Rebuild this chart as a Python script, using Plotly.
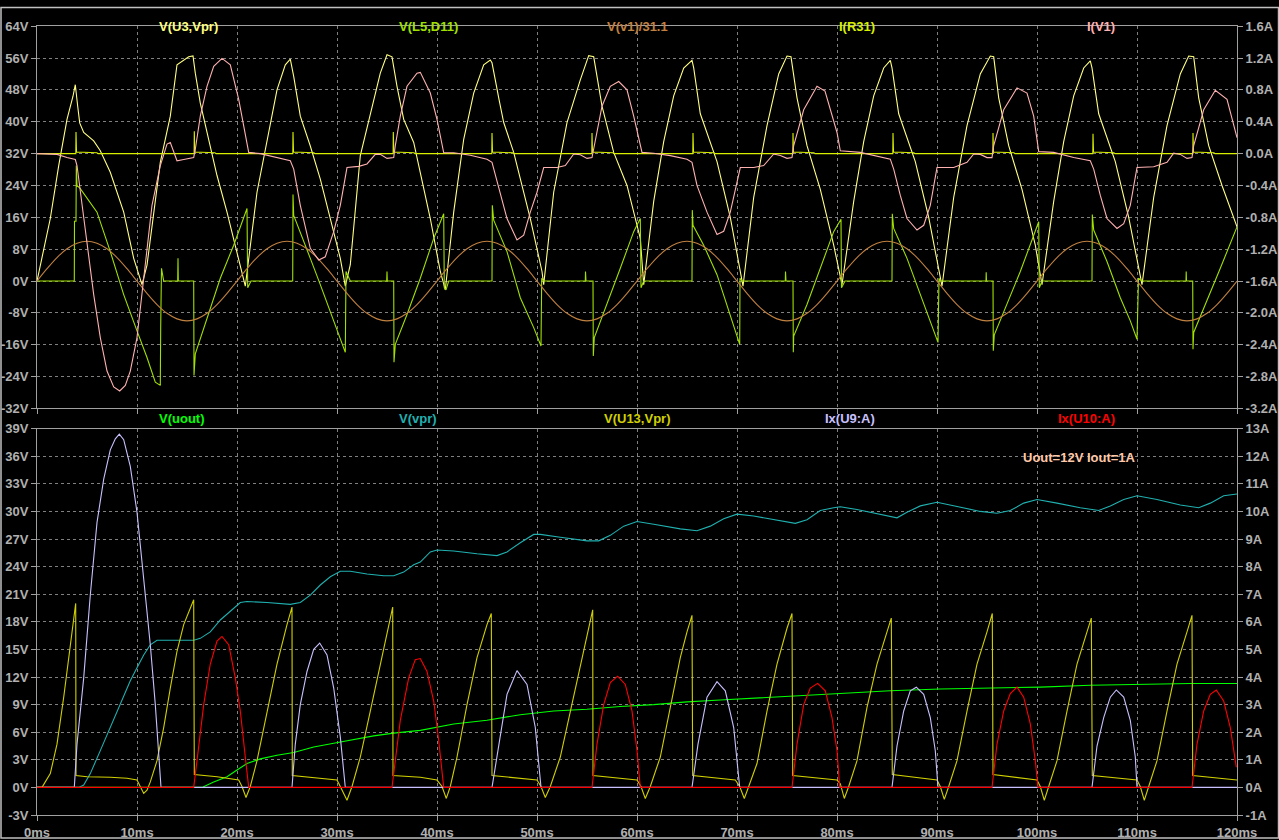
import plotly.graph_objects as go

# ---- top panel (time in ms) ----
u3_pts = [(0, 0), (0.5, 5.7), (1.33, 15.7), (2.17, 29), (3, 40.6), (3.6, 46.4), (3.83, 49.3), (4.07, 43.9),
          (4.27, 39.7), (4.67, 37.3), (5.67, 35.2), (6.33, 32.7), (7.33, 27.3), (8.67, 17.3), (9.67, 5.7),
          (10.5, -0.9), (11, 4), (12.33, 29.8), (13.33, 41.4), (14, 54.3), (15.17, 56.3), (15.6, 56.5),
          (15.83, 52.2), (16.33, 44.7), (17, 37.3), (18, 26.5), (19, 17.3), (20, 7.4), (20.83, -1.3),
          (22, 22.3), (23, 35.6), (24, 48), (24.83, 54.3), (25.33, 55.7), (25.67, 51.4), (26.33, 41.4),
          (27.33, 33.9), (28.33, 25.6), (29.33, 15.7), (30.33, 5.7), (30.83, -1.3), (31.33, 4.1),
          (32.33, 31.5), (33.33, 42.2), (34.33, 52.2), (35, 56.8), (35.5, 56.3), (36, 48.9), (36.67, 40.6),
          (37.67, 34.8), (38.33, 27), (39.33, 15.7), (40.33, 2.4), (40.83, -2.2), (41.67, 17.3),
          (42.67, 35.6), (43.67, 47.2), (44.67, 54.3), (45.33, 55.5), (45.5, 54.8), (46.2, 45.6),
          (46.67, 39.8), (47.67, 32.3), (49.33, 15.7), (50.5, 2.4), (50.67, -0.9), (51.67, 22.3),
          (53, 39.8), (54.33, 50.5), (55.17, 56.6), (55.67, 56.3), (56.5, 43.9), (57.67, 32.3), (59, 24),
          (60.33, 10.7), (60.67, -0.9), (61.67, 20), (62.67, 35), (63.67, 46.5), (64.67, 53.5),
          (65.5, 55.4), (65.67, 53.5), (66.33, 42), (67, 37), (68, 30), (69.33, 16), (70.33, 3),
          (70.6, -1.3), (71.67, 21), (73, 39), (74.17, 52), (75, 56.5), (75.4, 56.3), (76, 46),
          (77, 34), (78.33, 23), (79.67, 9), (80.5, -0.9), (81.67, 20), (82.67, 35), (83.67, 46.5),
          (84.67, 53.5), (85.33, 55.4), (85.5, 53.5), (86.17, 42), (86.83, 37), (87.83, 30),
          (89.17, 16), (90.17, 3), (90.5, -1.3), (91.67, 21), (93, 39), (94.33, 52), (95.33, 56.5),
          (95.67, 56.3), (96.17, 46), (97.17, 34), (98.5, 23), (99.83, 9), (100.5, -0.9), (101.67, 20),
          (102.67, 35), (103.67, 46.5), (104.67, 53.5), (105.33, 55.3), (105.5, 53.5), (106.17, 42),
          (106.83, 37), (107.83, 30), (109.17, 16), (110.17, 3), (110.5, -0.9), (111.67, 21),
          (113, 39), (114.33, 52), (115.17, 56.5), (115.67, 56.3), (116.17, 46), (117.17, 34),
          (118.5, 24), (120, 13.6)]

l5_pts = [(0, 0), (3.73, 0), (3.75, 15), (3.9, 15), (3.93, 29), (4.0, 24), (4.33, 23.2), (5, 20.7),
          (6, 17.3), (7.33, 7.4), (8.67, -3.4), (10, -12.5), (11, -19.2), (11.83, -25.4), (12.33, -26.2),
          (12.37, -11.7), (12.45, 3.2), (12.67, 0), (14.07, 0), (14.1, 5.7), (14.13, 0), (15.67, 0),
          (15.7, -23.7), (15.83, -18.3), (17, -9.2), (18.33, 0.7), (19.67, 9), (21, 18.2), (21.07, -1.7),
          (21.2, -1.0), (21.4, 0), (25.57, 0), (25.6, 21.7), (25.67, 16.5), (26.33, 12.4), (27.33, 5.7),
          (28.33, -0.9), (29.67, -10), (30.83, -17.9), (30.9, 2.4), (31.07, 1.6), (31.33, 0), (34.97, 0),
          (35, 2.4), (35.03, 0), (35.67, 0), (35.7, -20.4), (35.83, -15.9), (37, -8.4), (38.33, 0.7),
          (39.67, 10.7), (40.67, 16.9), (40.73, -1.7), (40.9, -2.2), (41.17, 0), (45.5, 0), (45.53, 19),
          (45.67, 15.3), (47, 7.4), (48.33, -4.2), (49.67, -11.7), (50.4, -16.3), (50.47, 0.7),
          (50.67, 0), (54.83, 0), (54.85, 2.4), (54.9, 0), (55.6, 0), (55.63, -18.8), (55.73, -14.2),
          (57, -5.9), (58.33, 3.2), (59.67, 12.4), (60.33, 15.7), (60.4, -1.7), (60.67, 0), (65.5, 0),
          (65.53, 17.8), (65.6, 14), (66.67, 9), (68, 1.6), (69, -5.9), (70.27, -15.9), (70.3, 0.7),
          (70.5, 0), (74.83, 0), (74.85, 2.4), (74.9, 0), (75.6, 0), (75.63, -17.9), (75.67, -13.8),
          (77, -5.9), (78.33, 3.2), (79.67, 12.4), (80.4, 15.5), (80.45, -1.7), (80.8, 0), (85.5, 0),
          (85.53, 16.9), (85.67, 13.2), (87, 5.7), (88.33, -3.4), (89.33, -10), (90.1, -15.4),
          (90.2, 0.7), (90.33, 0), (94.9, 0), (94.92, 2.2), (94.95, 0), (95.6, 0), (95.63, -17.5),
          (95.73, -13.5), (97, -5.9), (98.33, 2.4), (99.5, 10.3), (100.17, 14.9), (100.23, -1.7),
          (100.5, 0), (105.5, 0), (105.53, 16.7), (105.67, 12.8), (107, 4.9), (108.33, -4.2),
          (109.33, -10), (110, -14.6), (110.15, 0.7), (110.5, 0), (114.9, 0), (114.92, 2.4),
          (114.95, 0), (115.57, 0), (115.6, -17.1), (115.67, -12.9), (117, -5), (118.33, 3.2),
          (120, 13.6)]

v1_t = list(range(0, 121))
v1_v = [0, 3.1, 5.9, 8.1, 9.5, 10, 9.5, 8.1, 5.9, 3.1, 0, -3.1, -5.9, -8.1, -9.5, -10, -9.5, -8.1, -5.9, -3.1,
        0, 3.1, 5.9, 8.1, 9.5, 10, 9.5, 8.1, 5.9, 3.1, 0, -3.1, -5.9, -8.1, -9.5, -10, -9.5, -8.1, -5.9, -3.1,
        0, 3.1, 5.9, 8.1, 9.5, 10, 9.5, 8.1, 5.9, 3.1, 0, -3.1, -5.9, -8.1, -9.5, -10, -9.5, -8.1, -5.9, -3.1,
        0, 3.1, 5.9, 8.1, 9.5, 10, 9.5, 8.1, 5.9, 3.1, 0, -3.1, -5.9, -8.1, -9.5, -10, -9.5, -8.1, -5.9, -3.1,
        0, 3.1, 5.9, 8.1, 9.5, 10, 9.5, 8.1, 5.9, 3.1, 0, -3.1, -5.9, -8.1, -9.5, -10, -9.5, -8.1, -5.9, -3.1,
        0, 3.1, 5.9, 8.1, 9.5, 10, 9.5, 8.1, 5.9, 3.1, 0, -3.1, -5.9, -8.1, -9.5, -10, -9.5, -8.1, -5.9, -3.1,
        0]

r31_pts = [(0, 0), (3.88, 0), (3.9, 0.27), (3.95, 0.02), (6.0, 0.01), (6.1, 0),
           (15.71, 0), (15.73, 0.28), (15.78, 0.02), (17.8, 0.01), (17.9, 0),
           (25.58, 0), (25.6, 0.27), (25.65, 0.02), (27.7, 0.01), (27.8, 0),
           (35.61, 0), (35.63, 0.27), (35.68, 0.02), (37.7, 0.01), (37.8, 0),
           (45.48, 0), (45.5, 0.26), (45.55, 0.02), (47.6, 0.01), (47.7, 0),
           (55.48, 0), (55.5, 0.26), (55.55, 0.02), (57.6, 0.01), (57.7, 0),
           (65.58, 0), (65.6, 0.26), (65.65, 0.02), (67.7, 0.01), (67.8, 0),
           (75.58, 0), (75.6, 0.26), (75.65, 0.02), (77.7, 0.01), (77.8, 0),
           (85.58, 0), (85.6, 0.26), (85.65, 0.02), (87.7, 0.01), (87.8, 0),
           (95.58, 0), (95.6, 0.26), (95.65, 0.02), (97.7, 0.01), (97.8, 0),
           (105.58, 0), (105.6, 0.25), (105.65, 0.02), (107.7, 0.01), (107.8, 0),
           (115.58, 0), (115.6, 0.26), (115.65, 0.02), (117.7, 0.01), (117.8, 0), (120, 0)]

iv1_pts = [(0, 0), (2, -0.01), (3, -0.05), (3.83, -0.075), (4, -0.15), (4.5, -0.65), (5, -1.15),
           (5.67, -1.77), (6.33, -2.31), (7, -2.73), (7.67, -2.93), (8.27, -2.98), (8.83, -2.91),
           (9.33, -2.73), (10, -2.31), (10.67, -1.57), (11.5, -0.65), (12.33, -0.15), (13, 0.12),
           (13.33, 0.14), (14, -0.09), (14.67, -0.075), (15.67, -0.05), (15.83, 0.055), (16.33, 0.47),
           (17, 0.845), (17.67, 1.095), (18.5, 1.195), (19.33, 1.115), (20.17, 0.68), (21.17, 0.015),
           (22.33, 0), (24, -0.05), (25.33, -0.09), (25.67, -0.195), (26.33, -0.65), (27.33, -1.19),
           (28.17, -1.335), (28.83, -1.295), (29.67, -0.98), (30.33, -0.65), (30.83, -0.32),
           (31, -0.175), (32.17, -0.16), (33, -0.13), (33.83, -0.01), (34.33, -0.01), (35, -0.06),
           (35.67, -0.05), (35.83, 0.1), (36.33, 0.47), (37, 0.845), (38, 1.01), (38.33, 1.02),
           (39.33, 0.76), (40, 0.43), (40.67, 0.01), (41.67, 0.01), (43.33, -0.02), (45, -0.07),
           (45.5, -0.11), (46.2, -0.44), (47, -0.815), (48, -1.085), (48.67, -1.025), (49.33, -0.735),
           (50, -0.485), (50.67, -0.175), (52, -0.175), (52.83, -0.15), (53.67, -0.005), (54.33, -0.015),
           (55, -0.06), (55.5, -0.05), (55.67, 0.055), (56.5, 0.595), (57.33, 0.845), (58.17, 0.905),
           (59, 0.8), (59.67, 0.47), (60.5, 0.015), (61.67, 0.005), (63.33, -0.025), (65, -0.07),
           (65.5, -0.11), (66, -0.4), (67, -0.735), (68, -1.015), (68.67, -0.975), (69.33, -0.735),
           (70.33, -0.175), (71.67, -0.175), (72.67, -0.15), (73.67, -0.005), (74.33, -0.025),
           (75, -0.06), (75.5, -0.05), (75.67, 0.1), (76.67, 0.55), (78, 0.845), (78.8, 0.785),
           (80, 0.265), (80.33, 0.035), (82.33, 0.015), (85.33, -0.07), (85.67, -0.195), (86.33, -0.525),
           (87, -0.815), (88, -0.96), (88.67, -0.9), (89.33, -0.65), (90, -0.175), (91.67, -0.175),
           (93, -0.11), (93.67, -0.005), (94.33, -0.01), (95, -0.05), (95.5, -0.05), (95.67, 0.1),
           (96.67, 0.55), (98, 0.825), (99, 0.76), (99.67, 0.47), (100.17, 0.025), (101.67, 0.015),
           (103.67, -0.05), (105.33, -0.09), (105.67, -0.195), (106.33, -0.525), (107, -0.815),
           (108, -0.94), (108.67, -0.88), (109.33, -0.65), (110, -0.175), (111.67, -0.165), (113, -0.11),
           (113.67, 0.005), (114.33, -0.01), (115, -0.06), (115.5, -0.05), (115.67, 0.1), (116.67, 0.55),
           (117.83, 0.795), (119, 0.68), (120, 0.2)]

# ---- bottom panel ----
uout_pts = [(0, 0), (16.5, 0), (17.67, 0.6), (19, 1.15), (20, 1.9), (21, 2.6), (22.33, 3.1), (24, 3.5),
            (25.67, 3.8), (27.67, 4.4), (29.67, 4.8), (31.67, 5.2), (33.67, 5.6), (35.67, 5.9),
            (38.33, 6.2), (41.67, 6.9), (45, 7.3), (48.33, 7.9), (51.67, 8.3), (55, 8.5), (58.33, 8.8),
            (61.67, 9.0), (65, 9.3), (68.33, 9.5), (71.67, 9.7), (75, 9.9), (80.33, 10.2), (85.33, 10.5),
            (90.33, 10.7), (95.33, 10.8), (100.33, 10.9), (105.33, 11.1), (110.33, 11.2), (115.33, 11.3),
            (120, 11.3)]

vpr_pts = [(0, 0), (4.17, 0), (4.67, 0.25), (5.33, 1.5), (6.33, 4), (7.33, 6.5), (8.33, 9), (9.33, 11.6),
           (10, 13), (10.67, 14.4), (11.33, 15.5), (12, 16), (13, 16), (15.67, 16), (16.33, 16.2),
           (17.33, 16.9), (18.33, 18.2), (19.33, 19.2), (20.33, 20.1), (21, 20.2), (23, 20.1),
           (25.33, 19.9), (26.33, 20.1), (27.33, 20.9), (28.33, 22), (29.33, 22.9), (30.33, 23.5),
           (31.33, 23.5), (33, 23.2), (34.67, 23), (35.67, 23), (36.67, 23.4), (37.67, 24.2),
           (38.33, 24.5), (39.33, 25.6), (40, 25.8), (41.67, 25.7), (44, 25.4), (46, 25.2), (47, 25.6),
           (48.33, 26.6), (49.67, 27.5), (50.33, 27.5), (52.33, 27.2), (55, 26.8), (56.17, 26.8),
           (57.33, 27.4), (58.67, 28.4), (60, 28.9), (61.67, 28.6), (64.33, 28.1), (66, 27.9),
           (67.33, 28.4), (68.67, 29.2), (70, 29.7), (71.67, 29.5), (74.33, 29), (75.83, 28.7),
           (77, 29.1), (78.33, 30.1), (79.67, 30.4), (80.33, 30.5), (82, 30.2), (84.33, 29.7), (86, 29.3),
           (87, 29.9), (88.33, 30.6), (90, 31), (92, 30.5), (94.33, 30), (96, 29.8), (97.33, 30.1),
           (98.67, 30.9), (100, 31.3), (102, 30.9), (104.33, 30.4), (106.17, 30.1), (107.33, 30.6),
           (108.67, 31.3), (110, 31.7), (112, 31.3), (114.33, 30.7), (116.17, 30.4), (117.33, 30.9),
           (118.67, 31.7), (120, 31.9)]

u13_pts = [(0, 0), (0.5, 0), (1.33, 1.5), (2, 4.7), (2.67, 9.8), (3.33, 15.5), (3.73, 18.4), (3.87, 20),
           (3.9, 1.3), (5, 1.15), (7.33, 1.1), (9, 1.0), (10, 0.8), (10.33, 0.07), (10.67, -0.65),
           (11, -0.3), (11.33, 0.6), (12, 2.9), (12.67, 6.5), (13.33, 10.8), (14, 14.8), (14.67, 17.7),
           (15.33, 19.5), (15.67, 20.4), (15.73, 1.4), (18, 1.15), (20.17, 0.8), (20.5, 0.1),
           (20.9, -1.1), (21.33, 0.1), (22, 2.9), (23, 8.3), (24, 13.4), (25, 17.7), (25.5, 19.6),
           (25.53, 1.3), (30, 0.8), (30.33, 0.1), (31, -1.4), (31.5, 0.1), (32.33, 3.3), (33.33, 8.3),
           (34.33, 13.4), (35.17, 17.3), (35.57, 19.6), (35.6, 1.3), (38.33, 1.1), (40, 0.8), (40.5, 0.1),
           (40.93, -1.2), (41.33, 0.1), (42, 3.3), (43, 9), (44, 14.1), (45, 17.7), (45.43, 18.9),
           (45.5, 1.3), (50, 0.8), (50.4, 0.1), (50.83, -1.1), (51.33, 0.1), (52.33, 3.3), (53.67, 9.8),
           (54.67, 14.8), (55.33, 18), (55.57, 19.3), (55.6, 1.3), (60, 0.8), (60.4, 0.1), (60.83, -1.2),
           (61.33, 0.1), (62.33, 3.3), (63.33, 8.7), (64.33, 14.1), (65, 16.9), (65.5, 18.7), (65.57, 1.3),
           (69.83, 0.8), (70.27, 0.1), (70.73, -1.2), (71.17, 0.1), (72, 2.6), (73, 8.3), (74, 13.4),
           (75, 17.3), (75.5, 18.9), (75.57, 1.3), (80, 0.8), (80.33, 0.4), (80.73, -1.2), (81.17, 0.1),
           (82, 2.9), (83, 8.7), (84, 13.4), (85, 16.9), (85.43, 18.4), (85.53, 1.4), (90, 0.8),
           (90.33, 0.1), (90.73, -1.3), (91.17, 0.1), (92, 2.9), (93, 8.3), (94, 13.4), (95, 16.9),
           (95.53, 18.9), (95.6, 1.4), (100, 0.8), (100.33, 0.1), (100.73, -1.4), (101.17, 0.1), (102, 2.9),
           (103, 8.3), (104, 13.4), (105, 16.9), (105.43, 18.4), (105.53, 1.3), (110, 0.8), (110.33, 0.1),
           (110.73, -1.4), (111.17, 0.1), (112, 2.9), (113, 8.3), (114, 13.4), (115, 16.9), (115.5, 18.7),
           (115.57, 1.3), (120, 0.8)]

u9_pts = [(0, 0), (3.73, 0), (4, 1.57), (4.67, 3.97), (5.33, 6.97), (6, 9.6), (6.67, 11.17), (7.33, 12.23),
          (7.83, 12.63), (8.23, 12.8), (8.67, 12.6), (9.33, 11.63), (10, 9.97), (10.67, 7.57),
          (11.33, 5.17), (11.83, 3.0), (12.17, 1.23), (12.4, 0), (25.5, 0), (25.83, 1.57), (26.33, 3.0),
          (27, 4.2), (27.67, 5.0), (28.27, 5.23), (29, 4.8), (29.67, 3.6), (30.33, 1.83), (30.83, 0),
          (45.5, 0), (46.17, 1.57), (47, 3.37), (48, 4.23), (49, 3.73), (49.83, 2.17), (50.4, 0),
          (65.5, 0), (66.1, 1.57), (67, 3.27), (68, 3.83), (68.83, 3.5), (69.67, 2.17), (70.27, 0),
          (85.5, 0), (86, 1.5), (86.67, 2.77), (87.33, 3.5), (87.93, 3.63), (88.67, 3.37), (89.33, 2.53),
          (89.83, 1.33), (90.1, 0), (105.5, 0), (106, 1.5), (106.67, 2.53), (107.33, 3.27),
          (107.93, 3.53), (108.67, 3.27), (109.33, 2.43), (109.83, 1.1), (110, 0), (120, 0)]

u10_pts = [(0, 0), (15.67, 0), (16, 0.97), (16.67, 3.0), (17.33, 4.47), (18, 5.3), (18.5, 5.47),
           (19.17, 5.17), (19.83, 3.97), (20.33, 2.77), (20.83, 1.1), (21.17, 0), (35.5, 0), (35.83, 0.97),
           (36.33, 2.43), (37.17, 3.97), (37.83, 4.63), (38.33, 4.67), (39, 4.2), (39.67, 3.13),
           (40.17, 1.7), (40.67, 0), (55.5, 0), (56, 1.57), (56.67, 3.0), (57.33, 3.8), (58.07, 4.03),
           (58.83, 3.73), (59.5, 2.77), (60, 1.33), (60.33, 0), (75.5, 0), (76, 1.57), (76.67, 3.0),
           (77.33, 3.6), (78.07, 3.77), (78.83, 3.5), (79.5, 2.53), (80, 1.33), (80.27, 0), (95.5, 0),
           (96, 1.57), (96.67, 2.77), (97.33, 3.4), (98, 3.63), (98.67, 3.27), (99.33, 2.3), (99.83, 0.97),
           (100.1, 0), (115.5, 0), (116, 1.57), (116.67, 2.77), (117.33, 3.37), (117.93, 3.53),
           (118.67, 3.13), (119.33, 2.17), (119.93, 0.73)]

# tick labels
x_ticks = [0, 10, 20, 30, 40, 50, 60, 70, 80, 90, 100, 110, 120]
x_text = ['0ms', '10ms', '20ms', '30ms', '40ms', '50ms', '60ms', '70ms', '80ms', '90ms', '100ms', '110ms', '120ms']
top_v_ticks = [-32, -24, -16, -8, 0, 8, 16, 24, 32, 40, 48, 56, 64]
top_v_text = ['-32V', '-24V', '-16V', '-8V', '0V', '8V', '16V', '24V', '32V', '40V', '48V', '56V', '64V']
top_a_ticks = [-3.2, -2.8, -2.4, -2.0, -1.6, -1.2, -0.8, -0.4, 0.0, 0.4, 0.8, 1.2, 1.6]
top_a_text = ['-3.2A', '-2.8A', '-2.4A', '-2.0A', '-1.6A', '-1.2A', '-0.8A', '-0.4A', '0.0A', '0.4A', '0.8A', '1.2A', '1.6A']
bot_v_ticks = [-3, 0, 3, 6, 9, 12, 15, 18, 21, 24, 27, 30, 33, 36, 39]
bot_v_text = ['-3V', '0V', '3V', '6V', '9V', '12V', '15V', '18V', '21V', '24V', '27V', '30V', '33V', '36V', '39V']
bot_a_ticks = [-1, 0, 1, 2, 3, 4, 5, 6, 7, 8, 9, 10, 11, 12, 13]
bot_a_text = ['-1A', '0A', '1A', '2A', '3A', '4A', '5A', '6A', '7A', '8A', '9A', '10A', '11A', '12A', '13A']

top_names = ['V(U3,Vpr)', 'V(L5,D11)', 'V(v1)/31.1', 'I(R31)', 'I(V1)']
top_colors = ['#ffff80', '#a0e000', '#c08040', '#d8f000', '#ffb0b0']
bot_names = ['V(uout)', 'V(vpr)', 'V(U13,Vpr)', 'Ix(U9:A)', 'Ix(U10:A)']
bot_colors = ['#00ff00', '#20b0b0', '#d0d000', '#c8c0ff', '#ff0000']

GRID = '#808080'
FRAME = '#a0a0a0'
TXT = '#b0b0b0'
FONT = 'Liberation Sans'


def unzip(pts):
    return [p[0] for p in pts], [p[1] for p in pts]


fig = go.Figure()

top_data = [(unzip(u3_pts), 'y'), (unzip(l5_pts), 'y'), ((v1_t, v1_v), 'y'),
            (unzip(r31_pts), 'y2'), (unzip(iv1_pts), 'y2')]
for i, ((xs, ys), ax) in enumerate(top_data):
    fig.add_trace(go.Scatter(x=xs, y=ys, mode='lines', name=top_names[i], xaxis='x2', yaxis=ax,
                             line=dict(color=top_colors[i], width=1.1,
                                       shape='spline' if i == 2 else 'linear'),
                             showlegend=False, hoverinfo='skip'))

bot_data = [(unzip(uout_pts), 'y3'), (unzip(vpr_pts), 'y3'), (unzip(u13_pts), 'y3'),
            (unzip(u9_pts), 'y4'), (unzip(u10_pts), 'y4')]
for i, ((xs, ys), ax) in enumerate(bot_data):
    fig.add_trace(go.Scatter(x=xs, y=ys, mode='lines', name=bot_names[i], xaxis='x', yaxis=ax,
                             line=dict(color=bot_colors[i], width=1.1),
                             showlegend=False, hoverinfo='skip'))

tickfont = dict(family=FONT, size=13, color=TXT, weight='bold')
common = dict(showline=True, linecolor=FRAME, linewidth=1, ticks='outside', ticklen=5,
              tickcolor=FRAME, tickfont=tickfont, zeroline=False)
grid = dict(showgrid=True, gridcolor=GRID, griddash='3px,3px', gridwidth=1)

fig.update_layout(
    width=1279, height=840,
    margin=dict(l=37, r=42, t=0, b=25),
    paper_bgcolor='black', plot_bgcolor='black',
    xaxis=dict(domain=[0, 1], anchor='y3', range=[0, 120], tickmode='array', tickvals=x_ticks,
               ticktext=x_text, mirror=True, **common, **grid),
    xaxis2=dict(domain=[0, 1], anchor='y', range=[0, 120], matches='x', tickmode='array',
                tickvals=x_ticks, showticklabels=False, mirror=True, **common, **grid),
    yaxis=dict(domain=[0.5031, 0.9763], anchor='x2', range=[-32, 64], tickmode='array',
               tickvals=top_v_ticks, ticktext=top_v_text, **common, **grid),
    yaxis2=dict(anchor='x2', overlaying='y', side='right', range=[-3.2, 1.6], tickmode='array',
                tickvals=top_a_ticks, ticktext=top_a_text, showgrid=False, **common),
    yaxis3=dict(domain=[0, 0.4782], anchor='x', range=[-3, 39], tickmode='array',
                tickvals=bot_v_ticks, ticktext=bot_v_text, **common, **grid),
    yaxis4=dict(anchor='x', overlaying='y3', side='right', range=[-1, 13], tickmode='array',
                tickvals=bot_a_ticks, ticktext=bot_a_text, showgrid=False, **common),
)

# trace labels above each panel
label_x = [0.1, 0.3, 0.5, 0.7, 0.9]
for i in range(5):
    fig.add_annotation(x=label_x[i], y=0.9877, xref='paper', yref='paper', text=top_names[i],
                       showarrow=False, font=dict(family=FONT, size=13, color=top_colors[i], weight='bold'))
    fig.add_annotation(x=label_x[i], y=0.4908, xref='paper', yref='paper', text=bot_names[i],
                       showarrow=False, font=dict(family=FONT, size=13, color=bot_colors[i], weight='bold'))

fig.add_annotation(x=104.2, y=35.9, xref='x', yref='y3', text='Uout=12V Iout=1A', showarrow=False,
                   font=dict(family=FONT, size=13, color='#ffc8a8', weight='bold'))

# window frame
fig.add_shape(type='rect', xref='paper', yref='paper', x0=-0.03, x1=1.0346, y0=-0.0285, y1=0.9994,
              line=dict(color='#c0c0c0', width=1.5))

fig.write_html("out.html", config={'displayModeBar': False},
               post_script="document.body.style.margin='0';document.body.style.overflow='hidden';")
